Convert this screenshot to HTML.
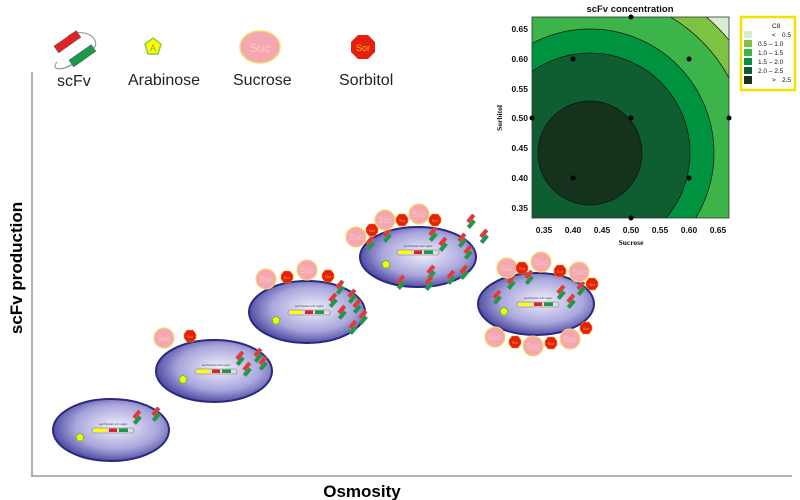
<!DOCTYPE html>
<html><head><meta charset="utf-8"><style>body{margin:0;background:#fff}svg{display:block}text{font-family:"Liberation Sans",sans-serif}</style></head><body>
<svg width="800" height="500" viewBox="0 0 800 500" xmlns="http://www.w3.org/2000/svg">
<defs>
<radialGradient id="cell" cx="0.55" cy="0.45" r="0.6">
<stop offset="0" stop-color="#f2f0fb"/><stop offset="0.6" stop-color="#a9a6dc"/><stop offset="1" stop-color="#3c3a98"/></radialGradient>
<clipPath id="pc"><rect x="532" y="17" width="197" height="201"/></clipPath>
<g id="ab"><g transform="rotate(40)"><rect x="-3" y="-7" width="4" height="9" fill="#e33" stroke="#888" stroke-width="0.4"/><rect x="1" y="-3" width="4" height="9" fill="#1a9a4a" stroke="#888" stroke-width="0.4"/></g></g>
<g id="plas"><rect x="-21" y="-2" width="42" height="5" rx="2" fill="#ddd" stroke="#777" stroke-width="0.6"/><rect x="-19" y="-1.5" width="12" height="3.5" fill="#ff0"/><rect x="-4" y="-1.5" width="8" height="3.5" fill="#d22"/><rect x="6" y="-1.5" width="9" height="3.5" fill="#1a9a4a"/><text x="0" y="-5" font-size="2.5" text-anchor="middle" fill="#333">Lac Promoter  scFv region</text></g>
<g id="ar"><polygon points="0,-4 4,-1 2.5,4 -2.5,4 -4,-1" fill="#ff0" stroke="#5b5" stroke-width="1"/></g>
<g id="suc"><circle r="10" fill="#f4a7b0" stroke="#f8d86a" stroke-width="1.2"/><text y="3" font-size="8" text-anchor="middle" fill="#f8c8c8">Suc</text></g>
<g id="sor"><polygon points="-3,-6 3,-6 6,-2 6,2 3,6 -3,6 -6,2 -6,-2" fill="#e52010" stroke="#f5a000" stroke-width="0.6"/><text y="2" font-size="4" text-anchor="middle" fill="#fb0">Sor</text></g>
</defs>
<!-- axes -->
<line x1="32" y1="72" x2="32" y2="476" stroke="#999" stroke-width="1.5"/>
<line x1="31" y1="476" x2="792" y2="476" stroke="#999" stroke-width="1.5"/>
<text transform="translate(22,268) rotate(-90)" font-size="17" font-weight="bold" text-anchor="middle" fill="#000">scFv production</text>
<text x="362" y="497" font-size="17" font-weight="bold" text-anchor="middle" fill="#000">Osmosity</text>
<!-- top legend icons -->
<path d="M57,62 C50,70 62,72 76,62 M68,36 C84,26 104,40 92,50" fill="none" stroke="#999" stroke-width="1.2"/>
<rect x="54" y="38" width="27" height="8" fill="#e52222" stroke="#444" stroke-width="0.5" transform="rotate(-35 67 42)"/>
<rect x="69" y="52" width="27" height="8" fill="#1a9a4a" stroke="#444" stroke-width="0.5" transform="rotate(-35 82 56)"/>
<text x="57" y="86" font-size="16" fill="#222">scFv</text>
<polygon points="153,38 161,44 158,54 148,54 145,44" fill="#ff0" stroke="#8c4" stroke-width="1.5"/><text x="153" y="51" font-size="9" text-anchor="middle" fill="#6a4">A</text>
<text x="128" y="85" font-size="16" fill="#222">Arabinose</text>
<ellipse cx="260" cy="47" rx="20" ry="16" fill="#f4a7b0" stroke="#f8d86a" stroke-width="1.5"/><text x="260" y="52" font-size="12" text-anchor="middle" fill="#f8c8c8">Suc</text>
<text x="233" y="85" font-size="16" fill="#222">Sucrose</text>
<polygon points="358,35 368,35 375,42 375,52 368,59 358,59 351,52 351,42" fill="#e52010"/><text x="363" y="51" font-size="9" text-anchor="middle" fill="#fb0">Sor</text>
<text x="339" y="85" font-size="16" fill="#222">Sorbitol</text>
<!-- cells -->
<g stroke="#2a2880" stroke-width="2">
<ellipse cx="111" cy="430" rx="58" ry="31" fill="url(#cell)"/>
<ellipse cx="214" cy="371" rx="58" ry="31" fill="url(#cell)"/>
<ellipse cx="307" cy="312" rx="58" ry="31" fill="url(#cell)"/>
<ellipse cx="418" cy="257" rx="58" ry="30" fill="url(#cell)"/>
<ellipse cx="536" cy="304" rx="58" ry="31" fill="url(#cell)"/>
</g>
<use href="#plas" x="113" y="430"/><use href="#plas" x="216" y="371"/><use href="#plas" x="309" y="312"/><use href="#plas" x="418" y="252"/><use href="#plas" x="538" y="304"/>
<use href="#ar" x="80" y="437"/><use href="#ar" x="183" y="379"/><use href="#ar" x="276" y="320"/><use href="#ar" x="386" y="264"/><use href="#ar" x="504" y="311"/>
<g>
<use href="#ab" x="136" y="417"/><use href="#ab" x="155" y="414"/>
<use href="#ab" x="239" y="358"/><use href="#ab" x="257" y="355"/><use href="#ab" x="262" y="363"/><use href="#ab" x="246" y="369"/>
<use href="#ab" x="339" y="287"/><use href="#ab" x="332" y="300"/><use href="#ab" x="351" y="296"/><use href="#ab" x="356" y="306"/><use href="#ab" x="341" y="312"/><use href="#ab" x="362" y="317"/><use href="#ab" x="352" y="327"/>
<use href="#ab" x="369" y="243"/><use href="#ab" x="386" y="235"/><use href="#ab" x="432" y="234"/><use href="#ab" x="442" y="244"/><use href="#ab" x="461" y="240"/><use href="#ab" x="467" y="252"/><use href="#ab" x="430" y="272"/><use href="#ab" x="450" y="277"/><use href="#ab" x="463" y="272"/><use href="#ab" x="400" y="282"/><use href="#ab" x="428" y="283"/><use href="#ab" x="470" y="221"/><use href="#ab" x="483" y="236"/>
<use href="#ab" x="510" y="282"/><use href="#ab" x="528" y="277"/><use href="#ab" x="496" y="297"/><use href="#ab" x="560" y="292"/><use href="#ab" x="570" y="301"/><use href="#ab" x="580" y="288"/>
</g>
<use href="#suc" x="164" y="338"/><use href="#sor" x="190" y="336"/>
<use href="#suc" x="266" y="279"/><use href="#sor" x="287" y="277"/><use href="#suc" x="307" y="270"/><use href="#sor" x="328" y="276"/>
<use href="#suc" x="356" y="237"/><use href="#sor" x="372" y="230"/><use href="#suc" x="385" y="220"/><use href="#sor" x="402" y="220"/><use href="#suc" x="419" y="214"/><use href="#sor" x="435" y="220"/>
<use href="#suc" x="507" y="268"/><use href="#sor" x="522" y="268"/><use href="#suc" x="541" y="262"/><use href="#sor" x="560" y="271"/><use href="#suc" x="579" y="272"/><use href="#sor" x="592" y="284"/>
<use href="#suc" x="495" y="337"/><use href="#sor" x="515" y="342"/><use href="#suc" x="533" y="346"/><use href="#sor" x="551" y="343"/><use href="#suc" x="570" y="339"/><use href="#sor" x="586" y="328"/>
<!-- contour plot -->
<text x="630" y="12" font-size="9.5" font-weight="bold" text-anchor="middle" fill="#111">scFv concentration</text>
<g clip-path="url(#pc)" stroke="#111" stroke-width="0.7">
<rect x="532" y="17" width="197" height="201" fill="#d9ecd0" stroke="none"/>
<circle cx="590" cy="153" r="179" fill="#7dc242"/>
<circle cx="590" cy="153" r="158" fill="#3cb44a"/>
<circle cx="590" cy="153" r="124" fill="#00933f"/>
<circle cx="590" cy="153" r="100" fill="#0e5e32"/>
<circle cx="590" cy="153" r="52" fill="#14321c"/>
</g>
<rect x="532" y="17" width="197" height="201" fill="none" stroke="#333" stroke-width="0.8"/>
<g fill="#000"><circle cx="631" cy="17" r="2.5"/><circle cx="573" cy="59" r="2.5"/><circle cx="689" cy="59" r="2.5"/><circle cx="532" cy="118" r="2.5"/><circle cx="631" cy="118" r="2.5"/><circle cx="729" cy="118" r="2.5"/><circle cx="573" cy="178" r="2.5"/><circle cx="689" cy="178" r="2.5"/><circle cx="631" cy="218" r="2.5"/></g>
<g font-size="8.5" font-weight="bold" fill="#111" text-anchor="end">
<text x="528" y="32">0.65</text><text x="528" y="62">0.60</text><text x="528" y="92">0.55</text><text x="528" y="121">0.50</text><text x="528" y="151">0.45</text><text x="528" y="181">0.40</text><text x="528" y="211">0.35</text></g>
<g font-size="8.5" font-weight="bold" fill="#111" text-anchor="middle">
<text x="544" y="233">0.35</text><text x="573" y="233">0.40</text><text x="602" y="233">0.45</text><text x="631" y="233">0.50</text><text x="660" y="233">0.55</text><text x="689" y="233">0.60</text><text x="718" y="233">0.65</text></g>
<text x="631" y="245" font-size="7.5" font-weight="bold" text-anchor="middle" fill="#111" style="font-family:'Liberation Serif',serif">Sucrose</text>
<text transform="translate(502,118) rotate(-90)" font-size="7.5" font-weight="bold" text-anchor="middle" fill="#111" style="font-family:'Liberation Serif',serif">Sorbitol</text>
<rect x="741" y="17" width="54" height="73" fill="#fff" stroke="#f2e200" stroke-width="2.5"/>
<text x="772" y="28" font-size="6.5" fill="#111">C8</text>
<g font-size="6.5" fill="#111">
<rect x="744" y="31" width="8" height="7" fill="#d9ecd0"/><text x="772" y="37">&lt;</text><text x="782" y="37">0.5</text>
<rect x="744" y="40" width="8" height="7" fill="#7dc242"/><text x="758" y="46">0.5  –  1.0</text>
<rect x="744" y="49" width="8" height="7" fill="#3cb44a"/><text x="758" y="55">1.0  –  1.5</text>
<rect x="744" y="58" width="8" height="7" fill="#00933f"/><text x="758" y="64">1.5  –  2.0</text>
<rect x="744" y="67" width="8" height="7" fill="#0e5e32"/><text x="758" y="73">2.0  –  2.5</text>
<rect x="744" y="76" width="8" height="8" fill="#14321c"/><text x="772" y="82">&gt;</text><text x="782" y="82">2.5</text>
</g>
</svg>
</body></html>
